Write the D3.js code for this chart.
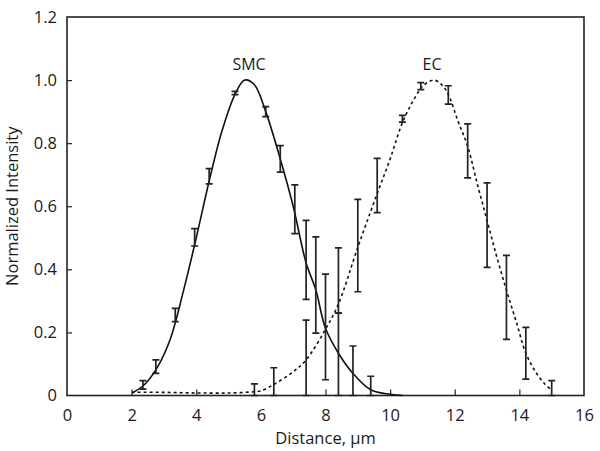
<!doctype html>
<html>
  <head>
    <title>Normalized Intensity</title>
    <style>
      * { margin: 0; padding: 0; }
      body { background: #fff; }
      svg { display: block; }
      text { font-family: "Open Sans", "Noto Sans", Arial, sans-serif; fill: #1a1a1a; }
    </style>
    <script src="https://cdnjs.cloudflare.com/ajax/libs/d3/7.8.5/d3.min.js"></script>
  </head>
  <body>
    <script>
      // data
      var xTicks = [0, 2, 4, 6, 8, 10, 12, 14, 16];
      var yTicks = [0, 0.2, 0.4, 0.6, 0.8, 1.0, 1.2];
      var yTickLabels = ["0", "0.2", "0.4", "0.6", "0.8", "1.0", "1.2"];

      // fitted curves
      var smcCurveX = [2.05, 2.4, 2.8, 3.2, 3.6, 4.0, 4.4, 4.8, 5.2, 5.5, 5.8, 6.15, 6.6, 7.0, 7.4, 7.7, 8.0, 8.4, 8.85, 9.4, 10.0, 10.4];
      var smcCurveY = [0.01, 0.035, 0.09, 0.18, 0.33, 0.5, 0.68, 0.84, 0.955, 1.0, 0.985, 0.9, 0.75, 0.6, 0.42, 0.335, 0.213, 0.134, 0.07, 0.018, 0.004, 0.0];
      var ecCurveX = [2.0, 3.0, 4.0, 5.0, 5.8, 6.0, 6.4, 7.0, 7.4, 8.0, 8.4, 9.0, 9.6, 10.0, 10.4, 10.8, 11.0, 11.35, 11.6, 11.8, 12.1, 12.4, 12.7, 13.0, 13.3, 13.6, 13.9, 14.2, 14.5, 14.8, 15.0];
      var ecCurveY = [0.01, 0.01, 0.008, 0.008, 0.012, 0.015, 0.035, 0.075, 0.113, 0.21, 0.29, 0.47, 0.64, 0.75, 0.87, 0.95, 0.98, 1.0, 0.985, 0.955, 0.87, 0.79, 0.67, 0.555, 0.44, 0.334, 0.235, 0.134, 0.075, 0.035, 0.018];

      // error bars: x, low, high
      var smcBarX = [2.35, 2.75, 3.35, 3.95, 4.4, 5.2, 6.15, 6.6, 7.05, 7.4, 7.7, 8.0, 8.4, 8.85, 9.4];
      var smcBarLo = [0.02, 0.07, 0.234, 0.474, 0.671, 0.954, 0.884, 0.708, 0.513, 0.305, 0.198, 0.05, 0.0, 0.0, 0.0];
      var smcBarHi = [0.047, 0.113, 0.276, 0.529, 0.719, 0.964, 0.916, 0.792, 0.668, 0.555, 0.503, 0.385, 0.261, 0.157, 0.061];
      var ecBarX = [5.8, 6.4, 7.4, 8.4, 9.0, 9.6, 10.38, 10.95, 11.8, 12.4, 13.0, 13.6, 14.2, 15.0];
      var ecBarLo = [0.0, 0.0, 0.0, 0.261, 0.329, 0.58, 0.867, 0.97, 0.924, 0.69, 0.406, 0.178, 0.052, 0.0];
      var ecBarHi = [0.037, 0.088, 0.239, 0.468, 0.622, 0.752, 0.888, 0.992, 0.982, 0.861, 0.674, 0.444, 0.216, 0.047];

      var width = 600, height = 451;
      var margin = {left: 67, right: 16, top: 17, bottom: 56};
      var font = "'Open Sans', 'Noto Sans', Arial, sans-serif";

      var svg = d3.select("body").append("svg")
                  .attr("width", width)
                  .attr("height", height);

      var x = d3.scaleLinear().domain([0, 16]).range([margin.left, width - margin.right]);
      var y = d3.scaleLinear().domain([0, 1.2]).range([height - margin.bottom + 0.5, margin.top]);

      // frame
      svg.append("rect")
         .attr("x", x(0))
         .attr("y", y(1.2))
         .attr("width", x(16) - x(0))
         .attr("height", y(0) - y(1.2))
         .attr("fill", "none")
         .attr("stroke", "#222")
         .attr("stroke-width", 1.6);

      // axes, ticks point inward
      var xAxis = svg.append("g")
         .attr("transform", "translate(0," + y(0) + ")")
         .call(d3.axisBottom(x).tickValues(xTicks).tickSize(-6).tickPadding(14).tickFormat(d3.format("d")));
      xAxis.select(".domain").remove();
      xAxis.selectAll("line").attr("stroke", "#222").attr("stroke-width", 1.2)
           .filter(function (d) { return d === 0 || d === 16 || d === 6; }).remove();
      xAxis.selectAll("text").attr("font-size", 16.5).attr("fill", "#1a1a1a").style("font-family", font);

      var yAxis = svg.append("g")
         .attr("transform", "translate(" + x(0) + ",0)")
         .call(d3.axisLeft(y).tickValues(yTicks).tickSize(-5).tickPadding(10)
                 .tickFormat(function (d, i) { return yTickLabels[i]; }));
      yAxis.select(".domain").remove();
      yAxis.selectAll("line").attr("stroke", "#222").attr("stroke-width", 1.2)
           .filter(function (d) { return d === 0 || d === 1.2; }).remove();
      yAxis.selectAll("text").attr("font-size", 16.5).attr("fill", "#1a1a1a").style("font-family", font);

      // curves
      var line = d3.line()
                   .x(function (d) { return x(d[0]); })
                   .y(function (d) { return y(d[1]); })
                   .curve(d3.curveCatmullRom);

      svg.append("path")
         .datum(d3.zip(smcCurveX, smcCurveY))
         .attr("d", line)
         .attr("fill", "none")
         .attr("stroke", "#111")
         .attr("stroke-width", 1.6);

      svg.append("path")
         .datum(d3.zip(ecCurveX, ecCurveY))
         .attr("d", line)
         .attr("fill", "none")
         .attr("stroke", "#111")
         .attr("stroke-width", 1.6)
         .attr("stroke-dasharray", "3,3");

      // error bars
      var bars = d3.zip(smcBarX, smcBarLo, smcBarHi).concat(d3.zip(ecBarX, ecBarLo, ecBarHi));
      var cap = 3.5;
      var eb = svg.append("g").attr("stroke", "#222").attr("stroke-width", 1.7).attr("fill", "none");
      eb.selectAll("path")
        .data(bars)
        .enter()
        .append("path")
        .attr("d", function (d) {
          var cx = x(d[0]), lo = y(d[1]), hi = y(d[2]);
          return "M" + (cx - cap) + "," + hi + "H" + (cx + cap) +
                 "M" + cx + "," + hi + "V" + lo +
                 "M" + (cx - cap) + "," + lo + "H" + (cx + cap);
        });

      // labels
      svg.append("text").attr("x", 249).attr("y", 70).attr("text-anchor", "middle")
         .attr("font-size", 16).text("SMC");
      svg.append("text").attr("x", 432).attr("y", 70).attr("text-anchor", "middle")
         .attr("font-size", 16).text("EC");

      svg.append("text")
         .attr("x", (x(0) + x(16)) / 2)
         .attr("y", 444)
         .attr("text-anchor", "middle")
         .attr("font-size", 16.5)
         .text("Distance, \u03bcm");

      svg.append("text")
         .attr("transform", "translate(18," + ((y(0) + y(1.2)) / 2) + ") rotate(-90)")
         .attr("text-anchor", "middle")
         .attr("font-size", 16.5)
         .text("Normalized Intensity");
    </script>
  </body>
</html>
